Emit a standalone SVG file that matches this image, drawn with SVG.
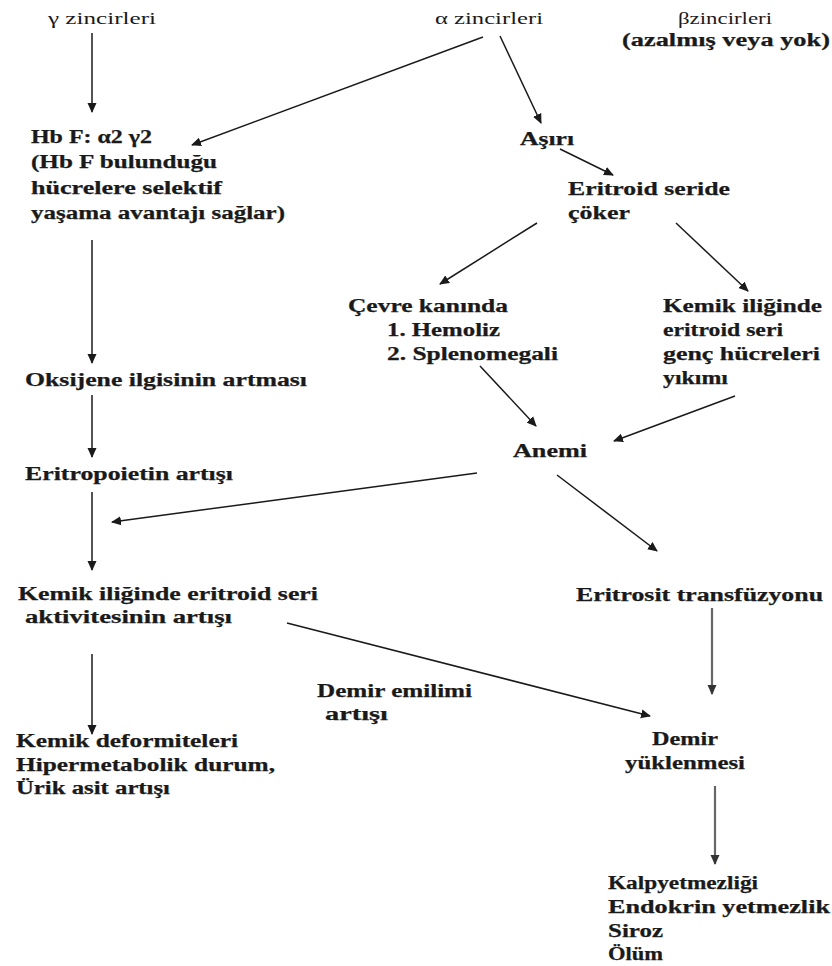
<svg xmlns="http://www.w3.org/2000/svg" width="832" height="966" viewBox="0 0 832 966">
<style>
text{font-family:"Liberation Serif","Times New Roman",serif;fill:#1a1a1a;}
.b{font-weight:bold;font-size:18.5px;stroke:#1a1a1a;stroke-width:0.25;}
.r{font-size:16.5px;}
.c line{stroke:#1a1a1a;stroke-width:1.5;fill:none;marker-end:url(#ah);}
.c line.g{stroke:#666;stroke-width:2.2;marker-end:url(#ahg);}
</style>
<defs>
<marker id="ah" viewBox="0 0 10 10" refX="9" refY="5" markerWidth="10" markerHeight="10" markerUnits="userSpaceOnUse" orient="auto"><path d="M0,0.5 L10,5 L0,9.5 z" fill="#1a1a1a"/></marker>
<marker id="ahg" viewBox="0 0 10 10" refX="9" refY="5" markerWidth="10" markerHeight="10" markerUnits="userSpaceOnUse" orient="auto"><path d="M0,0.5 L10,5 L0,9.5 z" fill="#333"/></marker>
</defs>
<rect width="832" height="966" fill="#fff"/>
<g class="c" id="connectors">
<line x1="92" y1="33" x2="92" y2="112"/>
<line x1="483" y1="37" x2="192" y2="145"/>
<line x1="500" y1="36" x2="541" y2="123"/>
<line x1="560" y1="149" x2="613" y2="175"/>
<line x1="92" y1="240" x2="92" y2="363"/>
<line x1="92" y1="395" x2="92" y2="457"/>
<line x1="92" y1="492" x2="92" y2="570"/>
<line x1="92" y1="654" x2="92" y2="734"/>
<line x1="537" y1="223" x2="440" y2="284"/>
<line x1="676" y1="223" x2="748" y2="291"/>
<line x1="480" y1="366" x2="536" y2="426"/>
<line x1="735" y1="396" x2="614" y2="441"/>
<line x1="477" y1="473" x2="112" y2="522"/>
<line x1="557" y1="475" x2="657" y2="551"/>
<line x1="287" y1="623" x2="650" y2="716"/>
<line class="g" x1="712" y1="608" x2="712" y2="694"/>
<line class="g" x1="715" y1="786" x2="715" y2="864"/>
</g>
<g id="n-gamma"><text class="r" x="48" y="24" textLength="108" lengthAdjust="spacingAndGlyphs">γ zincirleri</text></g>
<g id="n-alpha"><text class="r" x="435" y="24" textLength="108" lengthAdjust="spacingAndGlyphs">α zincirleri</text></g>
<g id="n-beta"><text class="r" x="678" y="24" textLength="94" lengthAdjust="spacingAndGlyphs">βzincirleri</text>
<text class="b" x="622" y="46" textLength="208" lengthAdjust="spacingAndGlyphs">(azalmış veya yok)</text></g>
<g id="n-hbf">
<text class="b" x="31" y="143" textLength="121" lengthAdjust="spacingAndGlyphs">Hb F: α2 γ2</text>
<text class="b" x="31" y="168" textLength="186" lengthAdjust="spacingAndGlyphs">(Hb F bulunduğu</text>
<text class="b" x="31" y="194" textLength="191" lengthAdjust="spacingAndGlyphs">hücrelere selektif</text>
<text class="b" x="31" y="219" textLength="254" lengthAdjust="spacingAndGlyphs">yaşama avantajı sağlar)</text>
</g>
<g id="n-asiri"><text class="b" x="520" y="145" textLength="54" lengthAdjust="spacingAndGlyphs">Aşırı</text></g>
<g id="n-eritroid"><text class="b" x="568" y="195" textLength="162" lengthAdjust="spacingAndGlyphs">Eritroid seride</text>
<text class="b" x="568" y="219" textLength="62" lengthAdjust="spacingAndGlyphs">çöker</text></g>
<g id="n-cevre">
<text class="b" x="348" y="312" textLength="160" lengthAdjust="spacingAndGlyphs">Çevre kanında</text>
<text class="b" x="387" y="336" textLength="113" lengthAdjust="spacingAndGlyphs">1. Hemoliz</text>
<text class="b" x="387" y="360" textLength="171" lengthAdjust="spacingAndGlyphs">2. Splenomegali</text>
</g>
<g id="n-kemik-yikim">
<text class="b" x="663" y="312" textLength="159" lengthAdjust="spacingAndGlyphs">Kemik iliğinde</text>
<text class="b" x="663" y="336" textLength="120" lengthAdjust="spacingAndGlyphs">eritroid seri</text>
<text class="b" x="663" y="360" textLength="157" lengthAdjust="spacingAndGlyphs">genç hücreleri</text>
<text class="b" x="663" y="384" textLength="65" lengthAdjust="spacingAndGlyphs">yıkımı</text>
</g>
<g id="n-anemi"><text class="b" x="513" y="457" textLength="74" lengthAdjust="spacingAndGlyphs">Anemi</text></g>
<g id="n-oksijen"><text class="b" x="25" y="386" textLength="282" lengthAdjust="spacingAndGlyphs">Oksijene ilgisinin artması</text></g>
<g id="n-epo"><text class="b" x="25" y="480" textLength="208" lengthAdjust="spacingAndGlyphs">Eritropoietin artışı</text></g>
<g id="n-aktivite">
<text class="b" x="18" y="600" textLength="300" lengthAdjust="spacingAndGlyphs">Kemik iliğinde eritroid seri</text>
<text class="b" x="25" y="623" textLength="207" lengthAdjust="spacingAndGlyphs">aktivitesinin artışı</text>
</g>
<g id="n-transfuzyon"><text class="b" x="576" y="601" textLength="247" lengthAdjust="spacingAndGlyphs">Eritrosit transfüzyonu</text></g>
<g id="n-demir-emilim">
<text class="b" x="317" y="697" textLength="155" lengthAdjust="spacingAndGlyphs">Demir emilimi</text>
<text class="b" x="325" y="720" textLength="63" lengthAdjust="spacingAndGlyphs">artışı</text>
</g>
<g id="n-demir-yuk">
<text class="b" x="652" y="745" textLength="66" lengthAdjust="spacingAndGlyphs">Demir</text>
<text class="b" x="625" y="769" textLength="120" lengthAdjust="spacingAndGlyphs">yüklenmesi</text>
</g>
<g id="n-deformite">
<text class="b" x="16" y="747" textLength="222" lengthAdjust="spacingAndGlyphs">Kemik deformiteleri</text>
<text class="b" x="16" y="771" textLength="259" lengthAdjust="spacingAndGlyphs">Hipermetabolik durum,</text>
<text class="b" x="16" y="794" textLength="154" lengthAdjust="spacingAndGlyphs">Ürik asit artışı</text>
</g>
<g id="n-sonuc">
<text class="b" x="608" y="889" textLength="150" lengthAdjust="spacingAndGlyphs">Kalpyetmezliği</text>
<text class="b" x="608" y="913" textLength="222" lengthAdjust="spacingAndGlyphs">Endokrin yetmezlik</text>
<text class="b" x="608" y="937" textLength="55" lengthAdjust="spacingAndGlyphs">Siroz</text>
<text class="b" x="608" y="960" textLength="55" lengthAdjust="spacingAndGlyphs">Ölüm</text>
</g>
</svg>
